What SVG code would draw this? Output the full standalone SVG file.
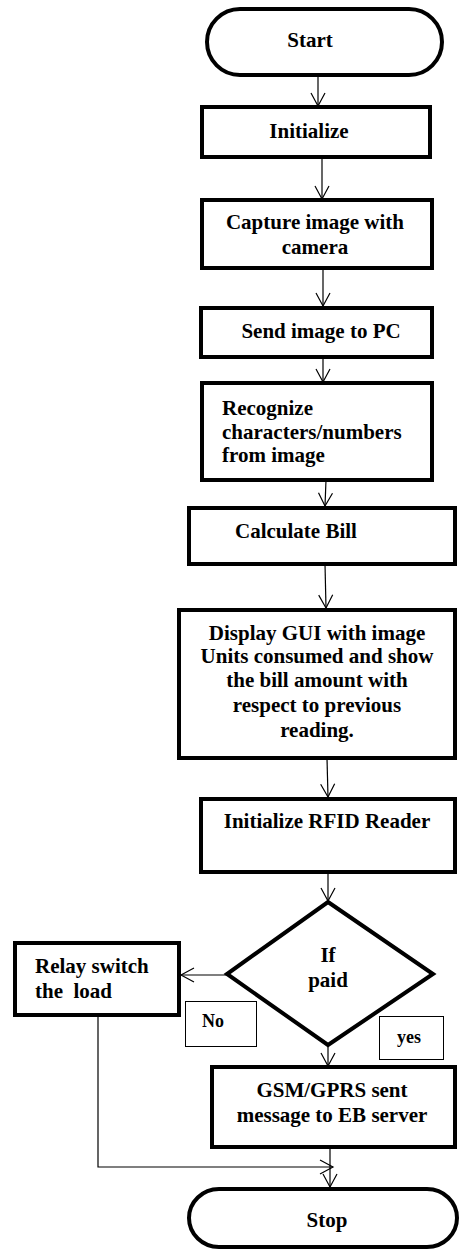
<svg xmlns="http://www.w3.org/2000/svg" width="461" height="1251" viewBox="0 0 461 1251">
<style>
.box{fill:#fff;stroke:#000;stroke-width:4}
.lbl{fill:#fff;stroke:#000;stroke-width:1}
.t{font-family:"Liberation Serif","Times New Roman",serif;font-weight:bold;font-size:21px;fill:#000}
.c{text-anchor:middle}
.s{font-size:18px}
.ln{fill:none;stroke:#000;stroke-width:1.2}
</style>
<defs>
<marker id="arr" viewBox="-15 -9 17 18" refX="0" refY="0" markerWidth="17" markerHeight="18" orient="auto" markerUnits="userSpaceOnUse">
<path d="M-13,-7 L0,0 L-13,7" fill="none" stroke="#000" stroke-width="1.2"/>
</marker>
</defs>
<rect width="461" height="1251" fill="#fff"/>
<g id="connectors">
<line class="ln" x1="318" y1="75" x2="318" y2="106" marker-end="url(#arr)"/>
<line class="ln" x1="322" y1="157" x2="322" y2="199" marker-end="url(#arr)"/>
<line class="ln" x1="323" y1="268" x2="323" y2="306" marker-end="url(#arr)"/>
<line class="ln" x1="323" y1="357" x2="323" y2="382" marker-end="url(#arr)"/>
<line class="ln" x1="326" y1="480" x2="325" y2="506" marker-end="url(#arr)"/>
<line class="ln" x1="325" y1="564" x2="326" y2="608" marker-end="url(#arr)"/>
<line class="ln" x1="327" y1="758" x2="328" y2="797" marker-end="url(#arr)"/>
<line class="ln" x1="328" y1="872" x2="328" y2="901" marker-end="url(#arr)"/>
<line class="ln" x1="227" y1="975" x2="181" y2="975" marker-end="url(#arr)"/>
<line class="ln" x1="328" y1="1045" x2="328" y2="1066" marker-end="url(#arr)"/>
<line class="ln" x1="330" y1="1147" x2="330" y2="1187" marker-end="url(#arr)"/>
<polyline class="ln" points="98,1015 98,1167 333,1167" marker-end="url(#arr)"/>
</g>
<g id="start">
<rect class="box" x="207" y="9" width="235" height="66" rx="33"/>
<text class="t c" x="310" y="47">Start</text>
</g>
<g id="initialize">
<rect class="box" x="202" y="107" width="228" height="50"/>
<text class="t c" x="309" y="138">Initialize</text>
</g>
<g id="capture">
<rect class="box" x="202" y="200" width="230" height="68"/>
<text class="t c" x="315" y="229">Capture image with</text>
<text class="t c" x="315" y="254">camera</text>
</g>
<g id="send">
<rect class="box" x="201" y="308" width="231" height="49"/>
<text class="t c" x="321" y="338">Send image to PC</text>
</g>
<g id="recognize">
<rect class="box" x="202" y="383" width="230" height="97"/>
<text class="t" x="222" y="415">Recognize</text>
<text class="t" x="222" y="439">characters/numbers</text>
<text class="t" x="222" y="462">from image</text>
</g>
<g id="calculate">
<rect class="box" x="189" y="508" width="266" height="56"/>
<text class="t c" x="296" y="538">Calculate Bill</text>
</g>
<g id="display">
<rect class="box" x="179" y="610" width="276" height="148"/>
<text class="t c" x="317" y="640">Display GUI with image</text>
<text class="t c" x="317" y="663">Units consumed and show</text>
<text class="t c" x="317" y="687">the bill amount with</text>
<text class="t c" x="317" y="712">respect to previous</text>
<text class="t c" x="317" y="737">reading.</text>
</g>
<g id="rfid">
<rect class="box" x="201" y="799" width="254" height="73"/>
<text class="t c" x="327" y="828">Initialize RFID Reader</text>
</g>
<g id="decision">
<polygon class="box" points="328,902 433,974 328,1045 227,974"/>
<text class="t c" x="328" y="962">If</text>
<text class="t c" x="328" y="987">paid</text>
</g>
<g id="relay">
<rect class="box" x="15" y="943" width="164" height="72"/>
<text class="t" x="35" y="973">Relay switch</text>
<text class="t" x="35" y="998" xml:space="preserve">the  load</text>
</g>
<g id="no-label">
<rect class="lbl" x="185.5" y="1001.5" width="71" height="45"/>
<text class="t c s" x="213" y="1027">No</text>
</g>
<g id="yes-label">
<rect class="lbl" x="379.5" y="1016.5" width="64" height="43"/>
<text class="t c s" x="409" y="1043">yes</text>
</g>
<g id="gsm">
<rect class="box" x="212" y="1067" width="243" height="80"/>
<text class="t c" x="332" y="1097">GSM/GPRS sent</text>
<text class="t c" x="332" y="1122">message to EB server</text>
</g>
<g id="stop">
<rect class="box" x="189" y="1189" width="268" height="58" rx="30"/>
<text class="t c" x="327" y="1227">Stop</text>
</g>
</svg>
